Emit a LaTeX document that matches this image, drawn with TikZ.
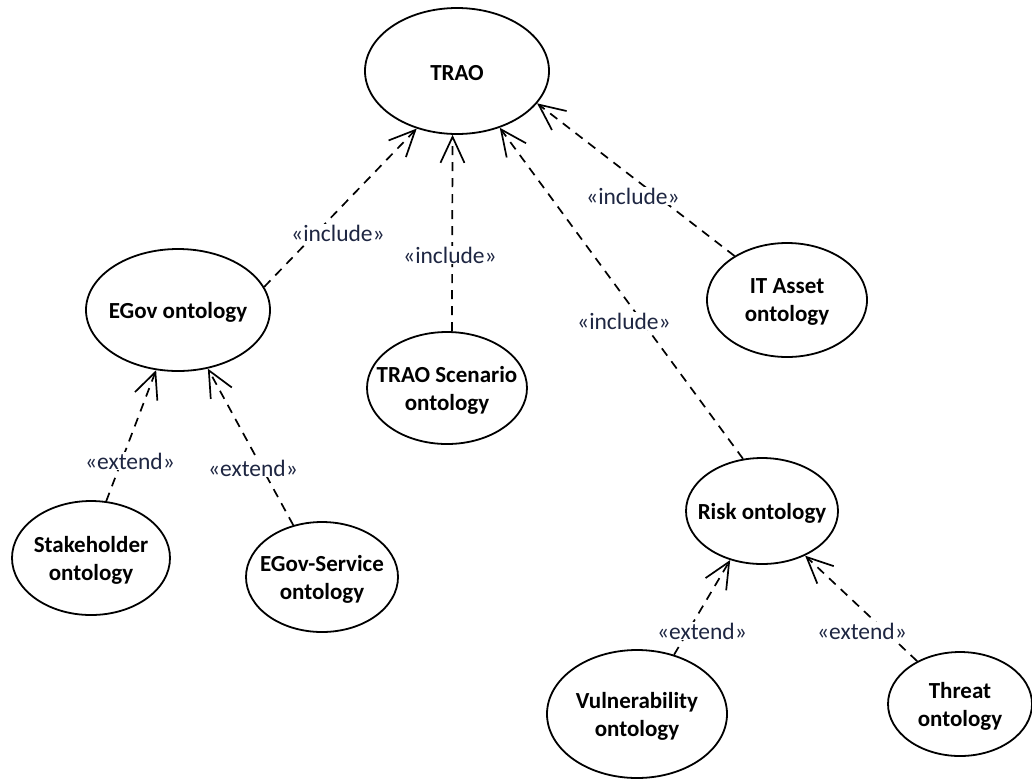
\documentclass[tikz,border=0pt]{standalone}
\usepackage{fontspec}
\setmainfont{Carlito}
\usetikzlibrary{arrows.meta,shapes.geometric}
\definecolor{stereo}{RGB}{30,38,66}
\begin{document}
\begin{tikzpicture}[x=1pt,y=-1pt,
  usecase/.style={draw, ellipse, line width=1.8pt, inner sep=0pt},
  casetext/.style={font=\bfseries\fontsize{23}{28}\selectfont, align=center,
    inner sep=0pt, yshift=-2pt},
  dep/.style={line width=1.7pt, dash pattern=on 9pt off 7pt,
    -{Straight Barb[length=26pt,width=24pt,line width=1.7pt]}},
  stereotype/.style={fill=white, inner sep=1pt, text=stereo,
    font=\fontsize{23.5}{27}\selectfont}]
\useasboundingbox (0,0) rectangle (1032,780);

% use cases
\node[usecase, minimum width=184pt, minimum height=126pt,
  label={[casetext]center:TRAO}] (trao) at (457,71) {};
\node[usecase, minimum width=184pt, minimum height=122pt,
  label={[casetext]center:EGov ontology}] (egov) at (178,310) {};
\node[usecase, minimum width=160pt, minimum height=112pt,
  label={[casetext]center:{TRAO Scenario\\ontology}}] (scen) at (447,388) {};
\node[usecase, minimum width=160pt, minimum height=114pt,
  label={[casetext]center:{IT Asset\\ontology}}] (itasset) at (787,300) {};
\node[usecase, minimum width=152pt, minimum height=106pt,
  label={[casetext]center:Risk ontology}] (risk) at (762,511) {};
\node[usecase, minimum width=158pt, minimum height=114pt,
  label={[casetext]center:{Stakeholder\\ontology}}] (stake) at (91,558) {};
\node[usecase, minimum width=152pt, minimum height=110pt,
  label={[casetext]center:{EGov-Service\\ontology}}] (service) at (322,577) {};
\node[usecase, minimum width=180pt, minimum height=128pt,
  label={[casetext]center:{Vulnerability\\ontology}}] (vuln) at (637,714) {};
\node[usecase, minimum width=144pt, minimum height=104pt,
  label={[casetext]center:{Threat\\ontology}}] (threat) at (960,704) {};

% include / extend dependencies
\draw[dep] (egov.15) -- (trao.235);
\draw[dep] (scen.85) -- (trao.266);
\draw[dep] (risk.110) -- (trao.307);
\draw[dep] (itasset.140) -- (trao.338);
\draw[dep] (stake.75) -- (egov.250);
\draw[dep] (service.119) -- (egov.297);
\draw[dep] (vuln.58) -- (risk.237);
\draw[dep] (threat.135) -- (risk.314);

% stereotype labels
\node[stereotype] (inc1) at (338,233) {«include»};
\node[stereotype] (inc2) at (450,255) {«include»};
\node[stereotype] (inc3) at (624,321) {«include»};
\node[stereotype] (inc4) at (633,196) {«include»};
\node[stereotype] (ext1) at (130,461) {«extend»};
\node[stereotype] (ext2) at (253,468) {«extend»};
\node[stereotype] (ext3) at (702,631) {«extend»};
\node[stereotype] (ext4) at (862,631) {«extend»};
\end{tikzpicture}
\end{document}
